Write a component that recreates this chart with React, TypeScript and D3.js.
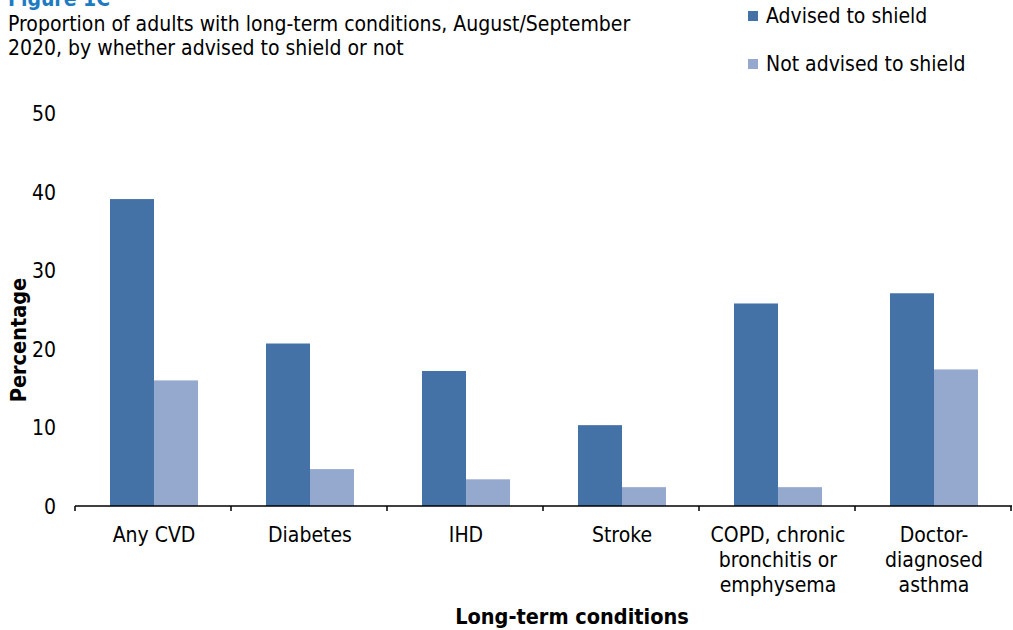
import React from "react";
import * as d3 from "d3";

const categories: string[][] = [
  ["Any CVD"],
  ["Diabetes"],
  ["IHD"],
  ["Stroke"],
  ["COPD, chronic", "bronchitis or", "emphysema"],
  ["Doctor-", "diagnosed", "asthma"],
];
const advised: number[] = [39.1, 20.7, 17.2, 10.3, 25.8, 27.1];
const notAdvised: number[] = [16.0, 4.7, 3.4, 2.4, 2.4, 17.4];
const yTicks: number[] = [0, 10, 20, 30, 40, 50];
const seriesNames = ["Advised to shield", "Not advised to shield"];

const W = 1013;
const H = 630;
const DARK = "#4472a7";
const LIGHT = "#95a9cf";
const FONT = "'DejaVu Sans Condensed', 'DejaVu Sans', sans-serif";
const FS = 21;

export default function App() {
  const x = d3
    .scaleBand<number>()
    .domain(d3.range(categories.length))
    .range([75, 1011])
    .paddingInner(0)
    .paddingOuter(0);
  const y = d3.scaleLinear().domain([0, 50]).range([506, 113.5]);
  const step = x.bandwidth();
  const barW = 44;
  const series = [advised, notAdvised];
  const colors = [DARK, LIGHT];
  const cx = (i: number) => (x(i) as number) + step / 2 + 1;

  return (
    <svg
      width={W}
      height={H}
      style={{ position: "absolute", left: 0, top: 0, background: "#fff" }}
      fontFamily={FONT}
      fontStretch="condensed"
    >
      <text x={8} y={6} fontSize={FS} fontWeight="bold" fill="#1f7bc1">
        Figure 1C
      </text>
      <text x={8} y={31} fontSize={FS} fill="#000">
        Proportion of adults with long-term conditions, August/September
      </text>
      <text x={8} y={55} fontSize={FS} fill="#000">
        2020, by whether advised to shield or not
      </text>

      {seriesNames.map((n, i) => (
        <g key={n}>
          <rect x={748} y={11 + i * 48} width={10} height={10} fill={colors[i]} />
          <text x={766} y={16 + i * 48} dy="0.35em" fontSize={FS} fill="#000">
            {n}
          </text>
        </g>
      ))}

      {yTicks.map((t) => (
        <text
          key={t}
          x={56}
          y={y(t)}
          dy="0.36em"
          textAnchor="end"
          fontSize={FS}
          fill="#000"
        >
          {t}
        </text>
      ))}

      {series.map((vals, si) =>
        vals.map((v, ci) => (
          <rect
            key={`${si}-${ci}`}
            x={cx(ci) - barW + si * barW}
            y={y(v)}
            width={barW}
            height={y(0) - y(v)}
            fill={colors[si]}
          />
        ))
      )}

      <line x1={75} x2={1012} y1={506} y2={506} stroke="#000" strokeWidth={1.5} />
      {d3.range(categories.length + 1).map((i) => (
        <line
          key={i}
          x1={75 + i * step}
          x2={75 + i * step}
          y1={506}
          y2={511}
          stroke="#000"
          strokeWidth={1.5}
        />
      ))}

      {categories.map((lines, ci) => (
        <text key={ci} x={cx(ci)} y={535} textAnchor="middle" fontSize={FS} fill="#000">
          {lines.map((l, li) => (
            <tspan key={li} x={cx(ci)} dy={li === 0 ? "0.35em" : 25}>
              {l}
            </tspan>
          ))}
        </text>
      ))}

      <text
        x={572}
        y={616}
        dy="0.35em"
        textAnchor="middle"
        fontSize={21.5}
        fontWeight="bold"
        fill="#000"
      >
        Long-term conditions
      </text>
      <text
        transform={`translate(18,340) rotate(-90)`}
        dy="0.35em"
        textAnchor="middle"
        fontSize={21.5}
        fontWeight="bold"
        fill="#000"
      >
        Percentage
      </text>
    </svg>
  );
}
